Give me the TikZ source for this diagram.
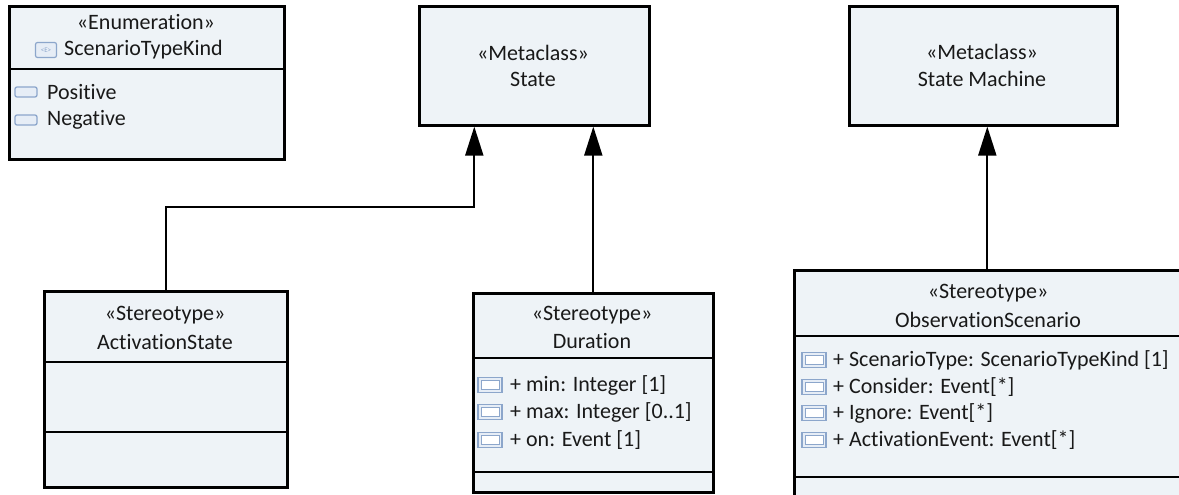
\documentclass[tikz,border=0pt]{standalone}
\usepackage{fontspec}
\setmainfont{Carlito}[Ligatures={NoCommon}]
\usepackage{xcolor}
\usetikzlibrary{arrows.meta, positioning, calc}

\definecolor{boxfill}{HTML}{EEF3F7}
\definecolor{iconblue}{HTML}{8CA6CB}
\definecolor{iconfill}{HTML}{E6EDF6}

\tikzset{
  umlbox/.style={draw, line width=2.6pt, fill=boxfill, anchor=north west, inner sep=0pt},
  divider/.style={line width=2.6pt},
  gen/.style={line width=2pt, -{Triangle[length=29pt,width=18pt]}},
  lbl/.style={inner sep=0pt, text=black!90, font=\fontsize{22}{26}\selectfont},
  row/.style={lbl, anchor=west},
  attricon/.style={draw=iconblue, line width=1.3pt, fill=iconfill, minimum width=24pt, minimum height=15pt, inner sep=0pt,
    path picture={\draw[iconblue, line width=0.9pt, fill=white] ([shift={(3pt,3pt)}]path picture bounding box.south west) rectangle ([shift={(-3pt,-3pt)}]path picture bounding box.north east);}},
  liticon/.style={draw=iconblue, line width=1.3pt, fill=iconfill, rounded corners=2pt, minimum width=22pt, minimum height=10pt, inner sep=0pt},
}

\begin{document}
\begin{tikzpicture}[x=1pt,y=-1pt]
    \useasboundingbox (0,0) rectangle (1179,495);
    \clip (0,0) rectangle (1179,495);

    % boxes
    \node[umlbox, minimum width=275pt, minimum height=153pt] (enum) at (8,5) {};
    \node[umlbox, minimum width=230pt, minimum height=119pt] (state) at (418,5) {};
    \node[umlbox, minimum width=268pt, minimum height=119pt] (sm) at (848,5) {};
    \node[umlbox, minimum width=243pt, minimum height=196pt] (act) at (43,290) {};
    \node[umlbox, minimum width=240pt, minimum height=199pt] (dur) at (472,292) {};
    \node[umlbox, minimum width=420pt, minimum height=240pt] (obs) at (793,269) {};

    % compartments
    \draw[divider] (enum.west |- 0,69) -- (enum.east |- 0,69);
    \draw[divider] (act.west |- 0,362) -- (act.east |- 0,362);
    \draw[divider] (act.west |- 0,432) -- (act.east |- 0,432);
    \draw[divider] (dur.west |- 0,358) -- (dur.east |- 0,358);
    \draw[divider] (dur.west |- 0,472) -- (dur.east |- 0,472);
    \draw[divider] (obs.west |- 0,336) -- (obs.east |- 0,336);
    \draw[divider] (obs.west |- 0,477) -- (obs.east |- 0,477);

    % enumeration
    \node[lbl] (enumst) at (146,22) {«Enumeration»};
    \node[draw=iconblue, line width=1.2pt, fill=iconfill, rounded corners=2pt, minimum width=21pt, minimum height=15pt, inner sep=0pt, text=iconblue, font=\fontsize{7}{7}\selectfont] (enumic) at (46,50) {<E>};
    \node[row] (enumname) at (64,50) {ScenarioTypeKind};
    \node[liticon] (lit1) at (26,92) {};
    \node[row] (lit1t) at (47,92) {Positive};
    \node[liticon] (lit2) at (26,120) {};
    \node[row] (lit2t) at (47,120) {Negative};

    % metaclasses
    \node[lbl] (statest) at (533,53) {«Metaclass»};
    \node[lbl] (statename) at (533,79) {State};
    \node[lbl] (smst) at (982,52) {«Metaclass»};
    \node[lbl] (smname) at (982,79) {State Machine};

    % stereotypes
    \node[lbl] (actst) at (165,315) {«Stereotype»};
    \node[lbl] (actname) at (165,342) {ActivationState};

    \node[lbl] (durst) at (592,315) {«Stereotype»};
    \node[lbl] (durname) at (592,341) {Duration};
    \node[attricon] (d1) at (490,385) {};
    \node[row] (d1t) at (510,385) {+ min: Integer [1]};
    \node[attricon] (d2) at (490,412) {};
    \node[row] (d2t) at (510,412) {+ max: Integer [0..1]};
    \node[attricon] (d3) at (490,440) {};
    \node[row] (d3t) at (510,440) {+ on: Event [1]};

    \node[lbl] (obsst) at (988,293) {«Stereotype»};
    \node[lbl] (obsname) at (988,320) {ObservationScenario};
    \node[attricon] (o1) at (814,360) {};
    \node[row] (o1t) at (833,360) {+ ScenarioType: ScenarioTypeKind [1]};
    \node[attricon] (o2) at (814,387) {};
    \node[row] (o2t) at (833,387) {+ Consider: Event[*]};
    \node[attricon] (o3) at (814,413) {};
    \node[row] (o3t) at (833,413) {+ Ignore: Event[*]};
    \node[attricon] (o4) at (814,440) {};
    \node[row] (o4t) at (833,440) {+ ActivationEvent: Event[*]};

    % generalizations
    \draw[gen] (act.north) -- ++(0,-83) -| ([xshift=-60pt]state.south);
    \draw[gen] (dur.north) -- (dur.north |- state.south);
    \draw[gen] ([xshift=4pt]sm.south |- obs.north) -- ([xshift=4pt]sm.south);
\end{tikzpicture}
\end{document}
